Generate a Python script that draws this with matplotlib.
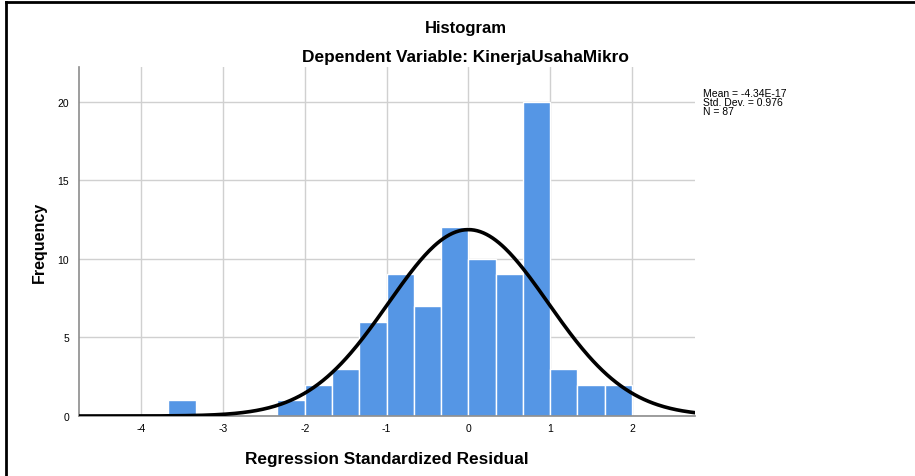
import matplotlib
matplotlib.use("Agg")
import matplotlib.pyplot as plt
from matplotlib.lines import Line2D
import numpy as np

# ── data ─────────────────────────────────────────────────────────────────────
bin_width = 1.0 / 3.0
bin_left = [-11, -7, -6, -5, -4, -3, -2, -1, 0, 1, 2, 3, 4, 5]   # in thirds
counts = [1, 1, 2, 3, 6, 9, 7, 12, 10, 9, 20, 3, 2, 2]
mean_val = -4.34e-17
std_val = 0.976
n_obs = 87
x_ticks = [-4, -3, -2, -1, 0, 1, 2]
y_ticks = [0, 5, 10, 15, 20]

BAR = "#5596e5"
GRID = "#d0d0d0"
AXIS = "#8c8c8c"
FONT = "Liberation Sans"

fig = plt.figure(figsize=(9.15, 4.77), dpi=100)
fig.patch.set_facecolor("white")
ax = fig.add_axes([0.0863, 0.1258, 0.6732, 0.7317])

lefts = np.array(bin_left) * bin_width
ax.bar(lefts, counts, width=bin_width, align="edge", color=BAR,
       edgecolor="white", linewidth=1.0, zorder=2)

# fitted normal curve from the stated mean / std. dev.
xs = np.linspace(-4.76, 2.77, 400)
curve = n_obs * bin_width / (std_val * np.sqrt(2 * np.pi)) * \
    np.exp(-0.5 * ((xs - mean_val) / std_val) ** 2)
ax.plot(xs, curve, color="black", linewidth=2.6, zorder=3)

ax.set_xlim(-4.76, 2.77)
ax.set_ylim(0, 22.2)
ax.set_xticks(x_ticks)
ax.set_xticklabels([str(v) for v in x_ticks], fontsize=7.5, family=FONT)
ax.set_yticks(y_ticks)
ax.set_yticklabels([str(v) for v in y_ticks], fontsize=7.5, family=FONT)
ax.tick_params(axis="x", length=0, pad=5)
ax.tick_params(axis="y", length=0, pad=7)
ax.grid(color=GRID, linewidth=1.0, zorder=0)
ax.set_axisbelow(True)
for s in ["top", "right"]:
    ax.spines[s].set_visible(False)
for s in ["left", "bottom"]:
    ax.spines[s].set_color(AXIS)
    ax.spines[s].set_linewidth(1.2)

ax.set_xlabel("Regression Standardized Residual", fontsize=12.4, fontweight="bold",
              family=FONT, labelpad=13)
ax.set_ylabel("Frequency", fontsize=11.5, fontweight="bold", family=FONT, labelpad=8)

fig.text(0.509, 0.940, "Histogram", ha="center", va="center", fontsize=12,
         fontweight="bold", family=FONT)
fig.text(0.509, 0.880, "Dependent Variable: KinerjaUsahaMikro", ha="center",
         va="center", fontsize=12.4, fontweight="bold", family=FONT)

fig.text(0.768, 0.814,
         f"Mean = {-4.34:.2f}E-17\nStd. Dev. = {std_val:.3f}\nN = {n_obs}",
         ha="left", va="top", fontsize=7.5, family=FONT, linespacing=0.9)

# outer frame (top and left edges)
fig.add_artist(Line2D([0.0066, 1.0], [0.993, 0.993], color="black", linewidth=2.0,
                      transform=fig.transFigure))
fig.add_artist(Line2D([0.0066, 0.0066], [0.0, 0.993], color="black", linewidth=2.0,
                      transform=fig.transFigure))

fig.savefig("out.png", dpi=100)
